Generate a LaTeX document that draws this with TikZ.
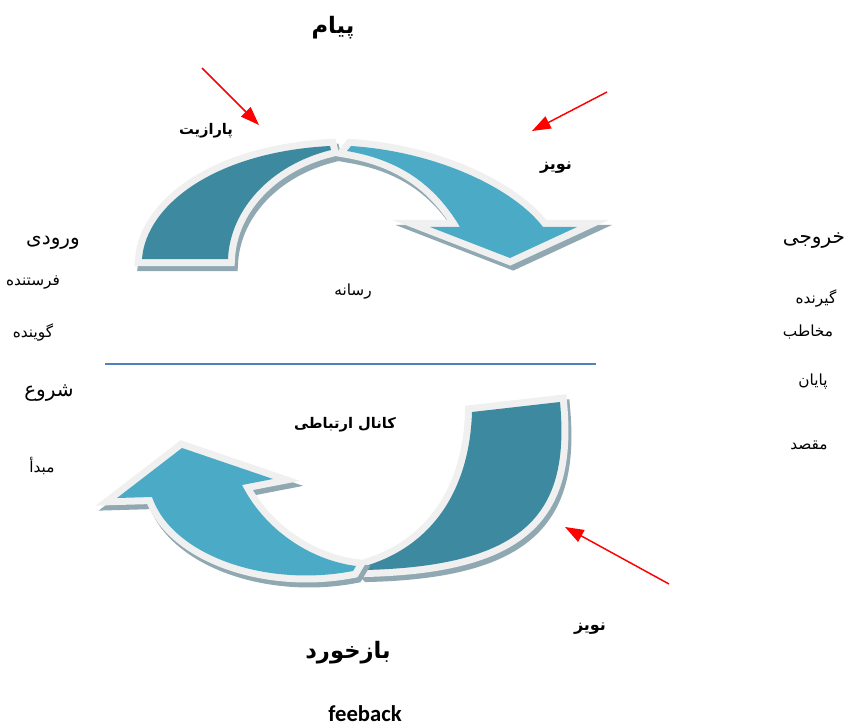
\documentclass[tikz,border=0pt]{standalone}
\usepackage{fontspec}
\usepackage{xcolor}
\TeXXeTstate=1
\newfontfamily\arabicfont[Script=Arabic]{DejaVu Sans}
\newfontfamily\latinfont{Carlito}
\usetikzlibrary{arrows.meta}
\definecolor{darkteal}{RGB}{61,138,160}
\definecolor{lightteal}{RGB}{75,171,198}
\definecolor{rimgray}{RGB}{240,240,240}
\definecolor{shadowgray}{RGB}{143,168,178}
\definecolor{lineblue}{RGB}{79,129,189}
\tikzset{
  armshadow/.style={fill=shadowgray, draw=shadowgray, line width=10.5pt, line join=miter, miter limit=10},
  armrim/.style={fill=rimgray, draw=rimgray, line width=10.5pt, line join=miter, miter limit=10},
  lbl/.style={font=\arabicfont\fontsize{11.5}{13}\selectfont, inner sep=0pt},
  lblbig/.style={font=\arabicfont\fontsize{15}{17}\selectfont, inner sep=0pt},
  lblbold/.style={font=\arabicfont\bfseries\fontsize{11}{13}\selectfont, inner sep=0pt},
  title/.style={font=\arabicfont\bfseries\fontsize{17}{19}\selectfont, inner sep=0pt},
  noisearrow/.style={red, line width=1.1pt, -{Triangle[length=14pt,width=10pt]}}
}
% one part of a curved arrow: shadow, light rim, then colour
\newcommand{\armpart}[2]{%
  \path[armshadow, shift={(3,5)}] #2;
  \path[armrim] #2;
  \fill[#1] #2;
}

\begin{document}
\begin{tikzpicture}[x=0.75pt, y=-0.75pt]
        \useasboundingbox (0,0) rectangle (845,727);
        % upper arrow
        \armpart{darkteal}{(142,259) .. controls (146,205) and (215,152) .. (330,146) -- (331,150) .. controls (270,165) and (230,210) .. (228,259) -- cycle}
        \armpart{lightteal}{(351,146) .. controls (440,152) and (515,190) .. (543,227) -- (577,227) -- (510,258) -- (430,227) -- (460,227) .. controls (435,185) and (400,160) .. (347,151) -- cycle}
        % lower arrow
        \armpart{darkteal}{(472,412) -- (560,402) .. controls (570,510) and (530,566) .. (365,570) -- (362,567) .. controls (440,545) and (470,480) .. (472,412) -- cycle}
        \armpart{lightteal}{(353,571) .. controls (265,588) and (172,555) .. (152,497) -- (117,498) -- (182,448) -- (273,479) -- (242,485) .. controls (265,530) and (310,560) .. (356,566) -- cycle}
        % divider
        \coordinate (divl) at (105,364);
        \coordinate (divr) at (596,364);
        \draw[lineblue, line width = 1.1pt] (divl) -- (divr);
        % noise arrows
        \coordinate (na1) at (202,68);
        \coordinate (nb1) at (259,125);
        \coordinate (na2) at (607,92);
        \coordinate (nb2) at (532,131);
        \coordinate (na3) at (669,584);
        \coordinate (nb3) at (565,527);
        \draw[noisearrow] (na1) -- (nb1);
        \draw[noisearrow] (na2) -- (nb2);
        \draw[noisearrow] (na3) -- (nb3);
        % labels
        \node[title] (payam) at (333,28) {\beginR پیام\endR};
        \node[lblbold] (parazit) at (206,131) {\beginR پارازیت\endR};
        \node[lblbold, font=\arabicfont\bfseries\fontsize{12}{14}\selectfont] (noiz1) at (556,168) {\beginR نویز\endR};
        \node[lblbig] (vorudi) at (53,243) {\beginR ورودی\endR};
        \node[lblbig] (khoruji) at (814,241) {\beginR خروجی\endR};
        \node[lbl] (ferestande) at (33,283) {\beginR فرستنده\endR};
        \node[lbl] (resane) at (353,292) {\beginR رسانه\endR};
        \node[lbl] (girande) at (816,299) {\beginR گیرنده\endR};
        \node[lbl] (mokhatab) at (808,332) {\beginR مخاطب\endR};
        \node[lbl] (gouyande) at (33,333) {\beginR گوینده\endR};
        \node[lbl] (payan) at (813,382) {\beginR پایان\endR};
        \node[lblbig] (shoru) at (49,393) {\beginR شروع\endR};
        \node[lblbold] (kanal) at (345,425) {\beginR کانال ارتباطی\endR};
        \node[lbl] (mabda) at (42,466) {\beginR مبدأ\endR};
        \node[lbl] (maqsad) at (809,445) {\beginR مقصد\endR};
        \node[lblbold, font=\arabicfont\bfseries\fontsize{12}{14}\selectfont] (noiz2) at (590,629) {\beginR نویز\endR};
        \node[title] (bazkhord) at (348,653) {\beginR بازخورد\endR};
        \node[font=\latinfont\bfseries\fontsize{17}{19}\selectfont, inner sep=0pt, anchor=base] (feeback) at (365,721) {feeback};
\end{tikzpicture}
\end{document}
